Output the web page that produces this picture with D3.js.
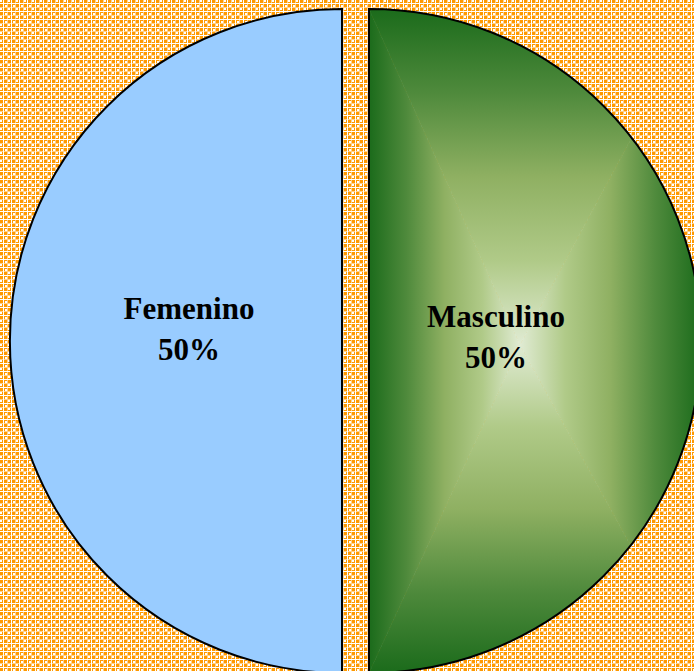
<!DOCTYPE html>
<html><head><meta charset="utf-8">
<script src="https://cdn.jsdelivr.net/npm/d3@7"></script>
<style>html,body{margin:0;padding:0;background:#fff;overflow:hidden}</style>
</head><body>
<svg id="c" width="694" height="671"></svg>
<script>
const categories = ["Masculino", "Femenino"];
const values = [50, 50];
const percentLabels = ["50%", "50%"];

const W = 694, H = 671;
const svg = d3.select("#c");
const defs = svg.append("defs");

// background checker pattern
const pat = defs.append("pattern").attr("id","bg").attr("patternUnits","userSpaceOnUse")
  .attr("width",8).attr("height",8);
pat.append("rect").attr("width",8).attr("height",8).attr("fill","#ff9900");
[[0,7,8,1],[7,0,1,8]].forEach(r=>pat.append("rect")
  .attr("x",r[0]).attr("y",r[1]).attr("width",r[2]).attr("height",r[3]).attr("fill","#ffd08a"));
[[0,3,8,1],[3,0,1,8],[5,5,2,2],[0,0,2,2]].forEach(r=>pat.append("rect")
  .attr("x",r[0]).attr("y",r[1]).attr("width",r[2]).attr("height",r[3]).attr("fill","#ffffff"));
svg.append("rect").attr("width",W).attr("height",H).attr("fill","url(#bg)");

const cx = 355.5, cy = 341, R = 332, explode = 13.5;
const pie = d3.pie().sort(null).value(d=>d.v);
const arcs = pie(categories.map((c,i)=>({c, v: values[i], l: percentLabels[i]})));
const arc = d3.arc().innerRadius(0).outerRadius(R);

const g = svg.append("g").attr("transform",`translate(${cx},${cy})`);

const stops = [[0,"#1b6b1b"],[0.25,"#4f8a3c"],[0.5,"#8fb062"],[0.75,"#b0ca88"],[1,"#e0ebd3"]];
function mkGrad(id,x1,y1,x2,y2){
  const lg = defs.append("linearGradient").attr("id",id).attr("gradientUnits","userSpaceOnUse")
    .attr("x1",x1).attr("y1",y1).attr("x2",x2).attr("y2",y2);
  stops.forEach(s=>lg.append("stop").attr("offset",s[0]).attr("stop-color",s[1]));
}

const labelOffsets = [{dx:-39,dy:-14},{dx:13,dy:-22}];

arcs.forEach((d,i)=>{
  const mid = (d.startAngle+d.endAngle)/2;
  const ox = Math.sin(mid)*explode, oy = -Math.cos(mid)*explode;
  const sg = g.append("g").attr("transform",`translate(${ox},${oy})`);
  const path = arc(d);
  if(i===0){
    const [x0,y0,x1,y1] = [0,-R,R,R];
    const mx=(x0+x1)/2 - 15, my=(y0+y1)/2 + 4;
    defs.append("clipPath").attr("id","clipM").append("path").attr("d",path);
    mkGrad("gT",0,y0,0,my); mkGrad("gB",0,y1,0,my);
    mkGrad("gL",x0,0,mx,0); mkGrad("gR",x1,0,mx,0);
    const cg = sg.append("g").attr("clip-path","url(#clipM)");
    const tri = (pts,f)=>cg.append("path").attr("d","M"+pts.map(p=>p.join(",")).join("L")+"Z")
      .attr("fill",`url(#${f})`).attr("stroke",`url(#${f})`).attr("stroke-width",0.6);
    tri([[x0,y0],[x1,y0],[mx,my]],"gT");
    tri([[x0,y1],[x1,y1],[mx,my]],"gB");
    tri([[x0,y0],[x0,y1],[mx,my]],"gL");
    tri([[x1,y0],[x1,y1],[mx,my]],"gR");
    sg.append("path").attr("d",path).attr("fill","none").attr("stroke","#000").attr("stroke-width",2);
  } else {
    sg.append("path").attr("d",path).attr("fill","#99ccff").attr("stroke","#000").attr("stroke-width",2);
  }
  const lr = R*0.5;
  const lx = Math.sin(mid)*lr + labelOffsets[i].dx + ox;
  const ly = -Math.cos(mid)*lr + labelOffsets[i].dy + oy;
  const t = g.append("g").attr("transform",`translate(${lx},${ly})`);
  t.append("text").attr("text-anchor","middle").attr("y",0)
    .attr("font-family","'Liberation Serif'").attr("font-weight","bold")
    .attr("font-size",31).attr("fill","#000").text(d.data.c);
  t.append("text").attr("text-anchor","middle").attr("y",41)
    .attr("font-family","'Liberation Serif'").attr("font-weight","bold")
    .attr("font-size",31).attr("fill","#000").text(d.data.l);
});
</script>
</body></html>
